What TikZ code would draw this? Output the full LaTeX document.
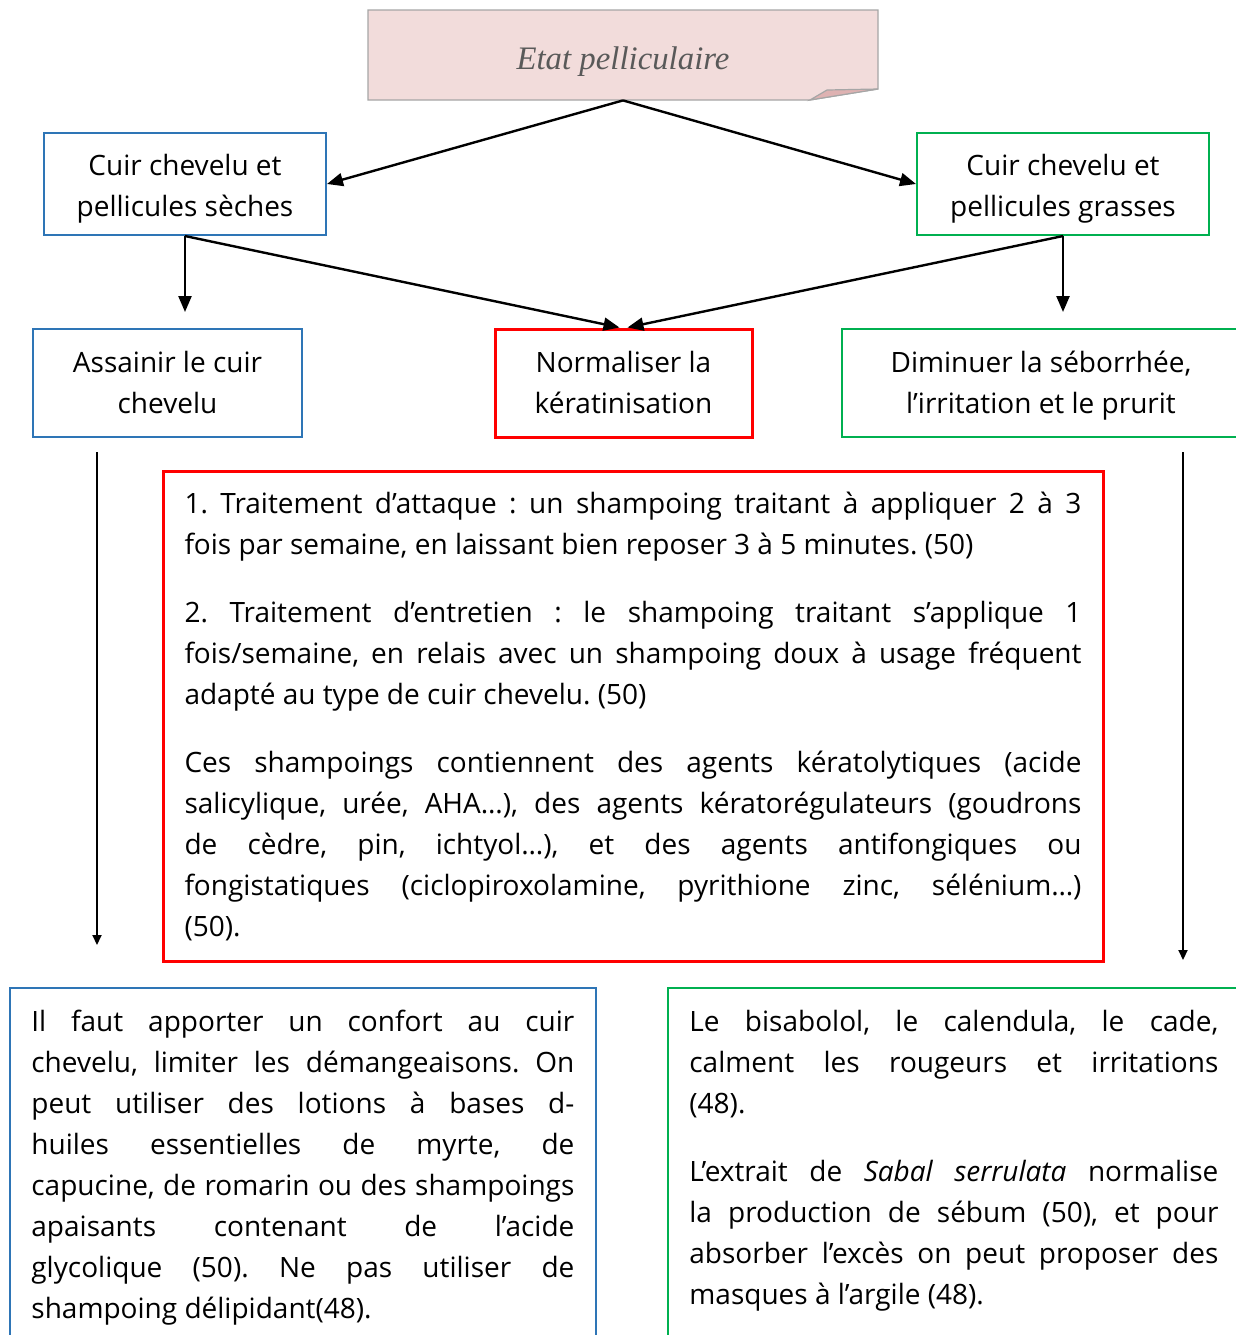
\documentclass[tikz,border=0pt]{standalone}
\usepackage{fontspec}
\setmainfont{Open Sans}
\newfontfamily\titlefont{Liberation Serif}
\usetikzlibrary{arrows.meta,calc}
\definecolor{bblue}{RGB}{46,117,182}
\definecolor{bgreen}{RGB}{0,176,80}
\definecolor{bred}{RGB}{255,0,0}
\definecolor{tpink}{RGB}{242,220,219}
\definecolor{tfold}{RGB}{222,178,178}
\definecolor{tgray}{RGB}{166,166,166}
\definecolor{ttext}{RGB}{89,89,89}
\tolerance=10000\relax
\hyphenpenalty=10000\relax
\frenchspacing
\newcommand\twolines[2][0pt]{\raisebox{-#1}[\height][\depth]{\begin{tabular}{@{}c@{}}#2\end{tabular}}}
\begin{document}
\begin{tikzpicture}[x=0.5pt,y=-0.5pt,
  every node/.style={font=\fontsize{14}{20.5}\selectfont},
  lbox/.style={draw, line width=1pt, align=center, inner sep=0pt},
  arr/.style={line width=1.2pt, -{Triangle[length=8pt,width=6.5pt]}},
  longarr/.style={line width=1pt, -{Triangle[length=5pt,width=4.5pt]}},
  para/.style={align=justify, anchor=north west, inner xsep=10.5pt, inner ysep=11pt}
]
\fill[white] (0,0) rectangle (1236,1335);
\useasboundingbox (0,0) rectangle (1236,1335);

% title
\fill[tpink, draw=tgray, line width=0.6pt] (368,10) -- (878,10) -- (878,89) -- (810,100) -- (368,100) -- cycle;
\fill[tfold, draw=tgray, line width=0.6pt] (810,100) -- (827,90) -- (878,89) -- cycle;
\node[inner sep=0pt, minimum width=255pt, minimum height=45pt, font=\titlefont\itshape\fontsize{16.4}{20}\selectfont, text=ttext] (titlebox) at (623,55) {\raisebox{-3.5pt}[\height][\depth]{Etat pelliculaire}};

% second level
\node[lbox, draw=bblue, minimum width=141pt, minimum height=51pt] (seches) at (185,184) {\twolines[2pt]{Cuir chevelu et\\pellicules sèches}};
\node[lbox, draw=bgreen, minimum width=146pt, minimum height=51pt] (grasses) at (1063,184) {\twolines[2pt]{Cuir chevelu et\\pellicules grasses}};

% third level
\node[lbox, draw=bblue, minimum width=134.5pt, minimum height=54pt] (assainir) at (167.5,383) {\twolines[1pt]{Assainir le cuir\\chevelu}};
\node[lbox, draw=bred, line width=1.5pt, minimum width=128.5pt, minimum height=54pt] (norm) at (623.5,383) {\twolines[1pt]{Normaliser la\\kératinisation}};
\node[lbox, draw=bgreen, minimum width=199pt, minimum height=54pt] (diminuer) at (1041,383) {\twolines[1pt]{Diminuer la séborrhée,\\l’irritation et le prurit}};

% arrows
\draw[arr] (titlebox.south) -- (seches.east);
\draw[arr] (titlebox.south) -- (grasses.west);
\coordinate (a1) at (185,312);
\coordinate (a2) at (1063,312);
\draw[arr] (seches.south) -- (a1);
\draw[arr] (seches.south) -- ([xshift=-2pt]norm.north);
\draw[arr] (grasses.south) -- ([xshift=2pt]norm.north);
\draw[arr] (grasses.south) -- (a2);

% long arrows
\coordinate (l1) at (97,452);
\coordinate (l2) at (97,945);
\coordinate (r1) at (1183,452);
\coordinate (r2) at (1183,960);
\draw[longarr] (l1) -- (l2);
\draw[longarr] (r1) -- (r2);

% central box
\node[draw=bred, line width=1.5pt, minimum width=470pt, minimum height=245pt, text width=448.5pt, inner xsep=10.75pt, align=justify] (traitement) at (633,716) {%
1. Traitement d’attaque : un shampoing traitant à appliquer 2 à 3\linebreak
fois par semaine, en laissant bien reposer 3 à 5 minutes. (50)\par\vspace{13.5pt}
2. Traitement d’entretien : le shampoing traitant s’applique 1\linebreak
fois/semaine, en relais avec un shampoing doux à usage fréquent\linebreak
adapté au type de cuir chevelu. (50)\par\vspace{13.5pt}
Ces shampoings contiennent des agents kératolytiques (acide\linebreak
salicylique, urée, AHA…), des agents kératorégulateurs (goudrons\linebreak
de cèdre, pin, ichtyol…), et des agents antifongiques ou\linebreak
fongistatiques (ciclopiroxolamine, pyrithione zinc, sélénium…)\linebreak
(50).};

% bottom boxes
\coordinate (bot) at (0,1345);
\node[para, text width=271.5pt] (gauche) at (10,988) {%
Il faut apporter un confort au cuir\linebreak
chevelu, limiter les démangeaisons. On\linebreak
peut utiliser des lotions à bases d-\linebreak
huiles essentielles de myrte, de\linebreak
capucine, de romarin ou des shampoings\linebreak
apaisants contenant de l’acide\linebreak
glycolique (50). Ne pas utiliser de\linebreak
shampoing délipidant(48).};
\draw[bblue, line width=1pt] (gauche.north west) rectangle (gauche.east |- bot);

\node[para, text width=264.5pt] (droite) at (668,988) {%
Le bisabolol, le calendula, le cade,\linebreak
calment les rougeurs et irritations\linebreak
(48).\par\vspace{13.5pt}
L’extrait de \textit{Sabal serrulata} normalise\linebreak
la production de sébum (50), et pour\linebreak
absorber l’excès on peut proposer des\linebreak
masques à l’argile (48).};
\draw[bgreen, line width=1pt] (droite.north west) rectangle ([xshift=10pt]droite.east |- bot);
\end{tikzpicture}
\end{document}
